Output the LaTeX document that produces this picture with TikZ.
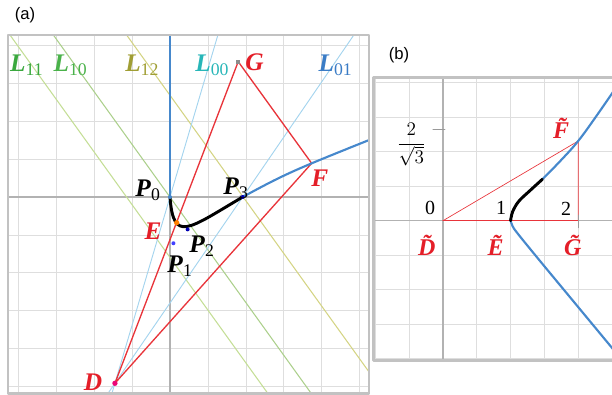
\documentclass[tikz,border=0pt]{standalone}
\usepackage{fontspec}
\setmainfont{Liberation Serif}
\newfontfamily\panelfont{Liberation Sans}
\usetikzlibrary{calc}

\definecolor{conred}{RGB}{232,52,58}
\definecolor{labred}{RGB}{228,30,40}
\definecolor{conblue}{RGB}{70,136,204}
\definecolor{raycyan}{RGB}{164,212,238}
\definecolor{lineLa}{RGB}{196,222,150}
\definecolor{lineLb}{RGB}{172,208,140}
\definecolor{lineLc}{RGB}{212,212,132}
\definecolor{labLa}{RGB}{58,168,62}
\definecolor{labLb}{RGB}{74,178,74}
\definecolor{labLc}{RGB}{160,158,52}
\definecolor{labLd}{RGB}{40,182,184}
\definecolor{labLe}{RGB}{58,124,198}

\newcommand\ptlbl[2]{\textbf{\textit{#1}}\textsubscript{#2}}
\newcommand\tlbl[1]{\textbf{\textit{\~{#1}}}}

\tikzset{
  gridline/.style={draw=black!13, line width=0.55pt},
  axisline/.style={draw=black!30, line width=1pt},
  framebox/.style={draw=black!24, line width=2pt},
  redline/.style={draw=conred, line width=1pt},
  thinred/.style={draw=conred, line width=0.5pt},
  rayline/.style={draw=raycyan, line width=0.7pt},
  conic/.style={draw=conblue, line width=1.6pt},
  bezseg/.style={draw=black, line width=2.2pt},
  ptdot/.style={circle, fill, inner sep=0pt, minimum size=3pt},
  lbl/.style={inner sep=0pt, font=\fontsize{19}{19}\selectfont},
  tlab/.style={inner sep=0pt, font=\fontsize{15}{15}\selectfont},
  tillab/.style={inner sep=0pt, text=labred, font=\fontsize{18}{18}\selectfont},
  captext/.style={inner sep=0pt, font=\panelfont\fontsize{12.5}{12.5}\selectfont}
}

\begin{document}
\begin{tikzpicture}[x=0.75pt, y=0.75pt, line cap=round, line join=round]
  \useasboundingbox (0,0) rectangle (612,395);

  % panel captions
  \node[captext] (capa) at (25,380) {(a)};
  \node[captext] (capb) at (399,340) {(b)};

  % ---------------- panel (a) ----------------
  \begin{scope}[xshift=127.5pt, yshift=148.5pt, x=13.5pt, y=13.5pt]
    % window bounds in grid cells
    \def\xmin{-9} \def\xmax{11.05}
    \def\ymin{-10.9} \def\ymax{9}

    % key points
    \coordinate (P0) at (0,0);
    \coordinate (P1) at (0.19,-2.57);
    \coordinate (P2) at (0.98,-1.8);
    \coordinate (P3) at (4.04,0);
    \coordinate (E) at (0.37,-1.43);
    \coordinate (D) at (-3.06,-10.35);
    \coordinate (G) at (3.79,7.52);
    \coordinate (F) at (7.87,1.87);

    \begin{scope}
      \clip (\xmin,\ymin) rectangle (\xmax,\ymax);
      \draw[gridline] (-9,-11) grid (12,9);
      \draw[axisline] (\xmin,0) -- (\xmax,0);
      \draw[axisline] (0,\ymin) -- (0,\ymax);

      % parallel lines L11, L10, L12
      \draw[draw=lineLa, line width=0.8pt] (-8.89,9) -- ++(16,-22.24);
      \draw[draw=lineLb, line width=0.8pt] (-6.48,9) -- ++(16,-22.24);
      \draw[draw=lineLc, line width=0.8pt] (-2.41,9) -- ++(16,-22.24);

      % rays L00 and L01 through D
      \draw[rayline] ($(D)!-0.2!(P0)$) -- ($(D)!2!(P0)$);
      \draw[rayline] ($(D)!-0.2!(P3)$) -- ($(D)!2!(P3)$);

      % triangle DGF
      \draw[redline] (D) -- (G) -- (F) -- cycle;

      % conic outside the segment
      \draw[conic] (P0) -- (0,\ymax);
      \draw[conic] plot[smooth, tension=0.6] coordinates
        {(4.04,0) (5.9,0.98) (7.87,1.87) (11.2,3.22)};
    \end{scope}

    % Bezier segment P0 .. P3
    \draw[bezseg] (P0) .. controls (P1) and (P2) .. (P3);

    % marked points
    \node[ptdot, fill=conblue] (p0dot) at (P0) {};
    \node[ptdot, fill=blue!70!black] (p3dot) at (P3) {};
    \node[ptdot, fill=blue!70!black] (p2dot) at (P2) {};
    \node[ptdot, fill=blue!75] (p1dot) at (P1) {};
    \node[ptdot, fill=orange, minimum size=4pt] (edot) at (E) {};
    \node[ptdot, fill=magenta!80!red, minimum size=4pt] (ddot) at (D) {};
    \node[rectangle, fill=black!45, inner sep=0pt, minimum size=3pt] (gdot) at (G) {};

    % line labels
    \node[lbl, text=labLa, anchor=base west] (l11) at (-8.89,6.96) {\ptlbl{L}{11}};
    \node[lbl, text=labLb, anchor=base west] (l10) at (-6.48,6.96) {\ptlbl{L}{10}};
    \node[lbl, text=labLc, anchor=base west] (l12) at (-2.5,6.96) {\ptlbl{L}{12}};
    \node[lbl, text=labLd, anchor=base west] (l00) at (1.39,6.96) {\ptlbl{L}{00}};
    \node[lbl, text=labLe, anchor=base west] (l01) at (8.24,6.96) {\ptlbl{L}{01}};

    % point labels
    \node[lbl, text=labred, anchor=base west] (glab) at (4.17,7.02) {\textbf{\textit{G}}};
    \node[lbl, text=labred] (flab) at (8.33,1.06) {\textbf{\textit{F}}};
    \node[lbl, text=labred] (elab) at (-0.94,-1.89) {\textbf{\textit{E}}};
    \node[lbl, text=labred] (dlab) at (-4.28,-10.28) {\textbf{\textit{D}}};
    \node[lbl] (p0lab) at (-1.22,0.39) {\ptlbl{P}{0}};
    \node[lbl] (p3lab) at (3.67,0.5) {\ptlbl{P}{3}};
    \node[lbl] (p2lab) at (1.78,-2.72) {\ptlbl{P}{2}};
    \node[lbl] (p1lab) at (0.56,-3.83) {\ptlbl{P}{1}};

    \draw[framebox] (\xmin,\ymin) rectangle (\xmax,\ymax);
  \end{scope}

  % ---------------- panel (b) ----------------
  \begin{scope}[xshift=332.25pt, yshift=130.725pt, x=50.7pt, y=51.75pt]
    \coordinate (Dt) at (0,0);
    \coordinate (Et) at (1,0);
    \coordinate (Gt) at (2,0);
    \coordinate (Ft) at (2,1.1547);

    \begin{scope}
      \clip (-1.03,-2.03) rectangle (2.7,2.08);
      \draw[gridline, step=0.5] (-1.5,-2.5) grid (3,2.5);
      \draw[axisline] (-1.1,0) -- (2.7,0);
      \draw[axisline] (0,-2.1) -- (0,2.1);

      % triangle
      \draw[thinred] (Dt) -- (Ft) -- (Gt);
      \draw[redline] (Dt) -- (Gt);

      % hyperbola branches
      \draw[conic] plot[smooth, tension=0.6] coordinates
        {(1.47,0.6) (1.73,0.86) (2,1.155) (2.3,1.56) (2.7,2.13)};
      \draw[conic] plot[smooth, tension=0.6] coordinates
        {(1,0) (1.03,-0.08) (1.1,-0.18) (1.39,-0.53) (1.88,-1.11) (2.7,-2.08)};
    \end{scope}

    % image of the Bezier segment
    \draw[bezseg] plot[smooth, tension=0.6] coordinates
      {(1,0) (1.03,0.13) (1.12,0.28) (1.28,0.43) (1.47,0.6)};

    % ticks
    \draw[draw=black!40, line width=0.9pt] (2,-0.1) -- (2,0.08);
    \draw[draw=black!40, line width=0.5pt] (-0.15,1.33) -- (0.03,1.33);

    % axis numbers
    \node[tlab] (frac) at (-0.47,1.1) {$\displaystyle\frac{2}{\sqrt{3}}$};
    \node[tlab] (n0) at (-0.19,0.19) {0};
    \node[tlab] (n1) at (0.86,0.19) {1};
    \node[tlab] (n2) at (1.82,0.17) {2};

    % point labels
    \node[tillab] (dtl) at (-0.17,-0.36) {\tlbl{D}};
    \node[tillab] (etl) at (0.78,-0.36) {\tlbl{E}};
    \node[tillab] (gtl) at (1.99,-0.36) {\tlbl{G}};
    \node[tillab] (ftl) at (1.82,1.34) {\tlbl{F}};

    \draw[framebox, line width=2.4pt] (-1.03,-2.03) rectangle (2.7,2.08);
  \end{scope}
\end{tikzpicture}
\end{document}
